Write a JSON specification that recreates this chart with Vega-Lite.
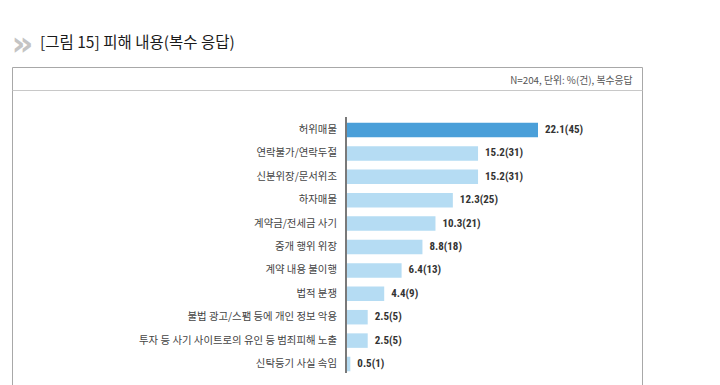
{
  "$schema": "https://vega.github.io/schema/vega-lite/v6.json",
  "width": 630,
  "height": 318,
  "autosize": {"type": "none"},
  "padding": {"left": 12, "top": 67, "right": 78, "bottom": 0},
  "background": "white",
  "title": {
    "text": "[그림 15] 피해 내용(복수 응답)",
    "anchor": "start",
    "frame": "group",
    "dx": 28,
    "offset": -24,
    "fontSize": 15.5,
    "fontWeight": "normal",
    "font": "Noto Sans CJK KR",
    "color": "#1a1a1a"
  },
  "config": {"view": {"stroke": "#a8a8a8", "strokeWidth": 1}},
  "data": {
    "values": [
      {"item": "허위매물", "pct": 22.1, "label": "22.1(45)", "group": "top"},
      {"item": "연락불가/연락두절", "pct": 15.2, "label": "15.2(31)", "group": "other"},
      {"item": "신분위장/문서위조", "pct": 15.2, "label": "15.2(31)", "group": "other"},
      {"item": "하자매물", "pct": 12.3, "label": "12.3(25)", "group": "other"},
      {"item": "계약금/전세금 사기", "pct": 10.3, "label": "10.3(21)", "group": "other"},
      {"item": "중개 행위 위장", "pct": 8.8, "label": "8.8(18)", "group": "other"},
      {"item": "계약 내용 불이행", "pct": 6.4, "label": "6.4(13)", "group": "other"},
      {"item": "법적 분쟁", "pct": 4.4, "label": "4.4(9)", "group": "other"},
      {"item": "불법 광고/스팸 등에 개인 정보 악용", "pct": 2.5, "label": "2.5(5)", "group": "other"},
      {"item": "투자 등 사기 사이트로의 유인 등 범죄피해 노출", "pct": 2.5, "label": "2.5(5)", "group": "other"},
      {"item": "신탁등기 사실 속임", "pct": 0.5, "label": "0.5(1)", "group": "other"}
    ]
  },
  "encoding": {
    "y": {
      "field": "item",
      "type": "nominal",
      "sort": null,
      "scale": {"range": [51.3, 308.7], "paddingInner": 0.38, "paddingOuter": 0.19},
      "axis": {
        "labels": false,
        "ticks": false,
        "domain": false,
        "grid": false,
        "title": "»",
        "titleAngle": 0,
        "titleX": 10,
        "titleY": -23,
        "titleFontSize": 34,
        "titleFont": "DejaVu Sans",
        "titleFontWeight": "bold",
        "titleColor": "#c4c4c4",
        "titleAlign": "center",
        "titleBaseline": "middle"
      }
    }
  },
  "layer": [
    {
      "mark": {"type": "bar"},
      "encoding": {
        "x": {
          "field": "pct",
          "type": "quantitative",
          "scale": {"domain": [-38.44, 34.07], "nice": false, "zero": false},
          "axis": {
            "orient": "top",
            "offset": -23,
            "labels": false,
            "ticks": false,
            "grid": false,
            "domainColor": "#c8c8c8",
            "domainWidth": 1.2,
            "title": "N=204, 단위: %(건), 복수응답",
            "titleX": 620,
            "titleY": -10,
            "titleAlign": "right",
            "titleBaseline": "middle",
            "titleFont": "Noto Sans CJK KR",
            "titleFontSize": 9.8,
            "titleFontWeight": "normal",
            "titleColor": "#555555"
          }
        },
        "x2": {"datum": 0},
        "color": {
          "field": "group",
          "type": "nominal",
          "scale": {"domain": ["top", "other"], "range": ["#4a9fd9", "#b5dcf3"]},
          "legend": null
        }
      }
    },
    {
      "mark": {"type": "rule", "color": "#7a7a7a", "strokeWidth": 1, "yOffset": -13, "y2Offset": 9},
      "encoding": {
        "x": {"datum": 0, "type": "quantitative"},
        "y": {"datum": "허위매물", "type": "nominal"},
        "y2": {"datum": "신탁등기 사실 속임"}
      }
    },
    {
      "mark": {"type": "text", "align": "right", "baseline": "middle", "dx": -9, "font": "Noto Sans CJK KR", "fontSize": 10.4, "color": "#444444"},
      "encoding": {
        "x": {"datum": 0, "type": "quantitative"},
        "text": {"field": "item"}
      }
    },
    {
      "mark": {"type": "text", "align": "left", "baseline": "middle", "dx": 7, "font": "Roboto Condensed, Liberation Sans Narrow, Roboto", "fontSize": 11, "fontWeight": "bold", "color": "#333333"},
      "encoding": {
        "x": {"field": "pct", "type": "quantitative"},
        "text": {"field": "label"}
      }
    }
  ]
}
